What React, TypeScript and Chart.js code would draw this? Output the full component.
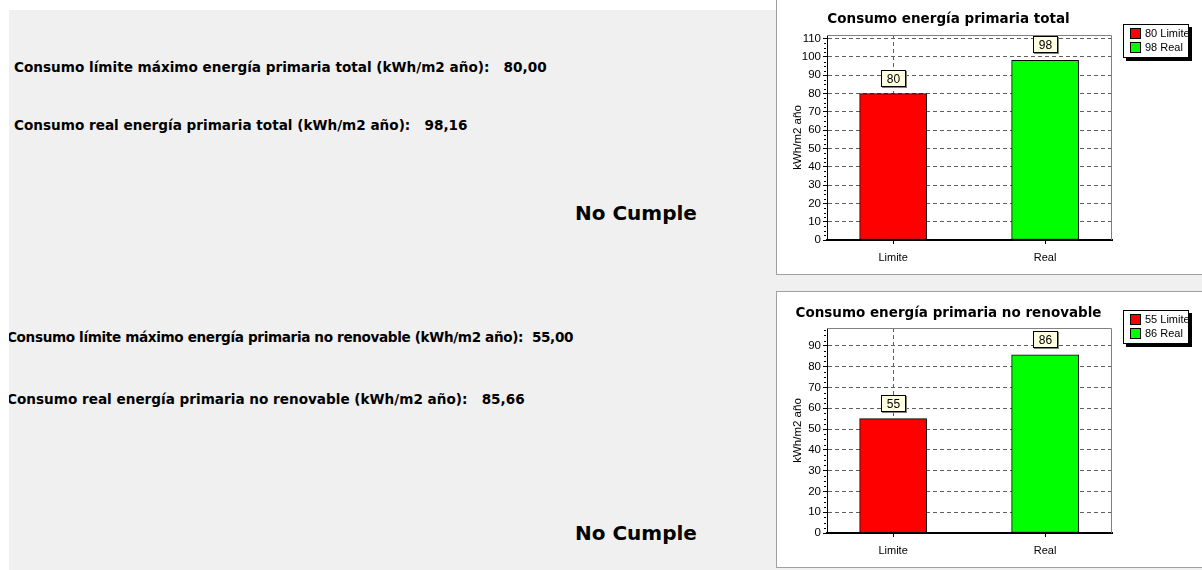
import React, { useEffect, useRef } from "react";
import { Chart, registerables } from "chart.js";

Chart.register(...registerables);

// ---------- data ----------
const categories = ["Limite", "Real"];
const totalValues = [80, 98.16];
const nonRenewableValues = [55, 85.66];
const totalYTicks = [0, 10, 20, 30, 40, 50, 60, 70, 80, 90, 100, 110];
const nonRenewableYTicks = [0, 10, 20, 30, 40, 50, 60, 70, 80, 90];
const totalYMax = 112;
const nonRenewableYMax = 98.6;
const barColors = ["#ff0000", "#00ff00"];
const totalTitle = "Consumo energía primaria total";
const nonRenewableTitle = "Consumo energía primaria no renovable";
const yAxisTitle = "kWh/m2 año";

const totalLimitText = "Consumo límite máximo energía primaria total (kWh/m2 año):   80,00";
const totalRealText = "Consumo real energía primaria total (kWh/m2 año):   98,16";
const nonRenLimitText = "Consumo límite máximo energía primaria no renovable (kWh/m2 año):  55,00";
const nonRenRealText = "Consumo real energía primaria no renovable (kWh/m2 año):   85,66";
const verdictText = "No Cumple";

const AXIS_FONT = "'Liberation Sans', Arial, sans-serif";
const BOLD_FONT = "'DejaVu Sans', Verdana, sans-serif";

type PanelProps = {
  values: number[];
  yTicks: number[];
  yMax: number;
  title: string;
  titleY: number;
  legendTop: number;
  topPad: number;
  width: number;
  height: number;
};

function BarPanel({ values, yTicks, yMax, title, titleY, legendTop, topPad, width, height }: PanelProps) {
  const ref = useRef<HTMLCanvasElement>(null);

  useEffect(() => {
    const canvas = ref.current;
    if (!canvas) return;

    const decor = {
      id: "decor",
      beforeDatasetsDraw(chart: any) {
        const { ctx, chartArea: a } = chart;
        ctx.save();
        ctx.strokeStyle = "#808080";
        ctx.lineWidth = 1;
        ctx.beginPath();
        ctx.moveTo(a.left, a.top + 0.5);
        ctx.lineTo(a.right - 0.5, a.top + 0.5);
        ctx.lineTo(a.right - 0.5, a.bottom);
        ctx.stroke();
        // minor ticks on the value axis
        const ys = chart.scales.y;
        ctx.strokeStyle = "#000";
        ctx.beginPath();
        for (let v = 2.5; v < yMax; v += 2.5) {
          if (v % 10 === 0) continue;
          const py = Math.round(ys.getPixelForValue(v)) + 0.5;
          ctx.moveTo(a.left - 3, py);
          ctx.lineTo(a.left - 1, py);
        }
        ctx.stroke();
        ctx.restore();
      },
      afterDatasetsDraw(chart: any) {
        const { ctx } = chart;
        const meta = chart.getDatasetMeta(0);
        ctx.save();
        ctx.font = `12px ${AXIS_FONT}`;
        meta.data.forEach((bar: any, i: number) => {
          const txt = String(Math.round(values[i]));
          const tw = ctx.measureText(txt).width;
          const w = Math.round(tw + 12);
          const h = 17;
          const x = Math.round(bar.x - w / 2);
          const y = Math.round(bar.y - 7 - h);
          ctx.fillStyle = "#808080";
          ctx.fillRect(x + 1, y + 1, w, h);
          ctx.fillStyle = "#ffffe1";
          ctx.fillRect(x, y, w, h);
          ctx.strokeStyle = "#000";
          ctx.lineWidth = 1;
          ctx.strokeRect(x + 0.5, y + 0.5, w - 1, h - 1);
          ctx.fillStyle = "#000";
          ctx.textAlign = "center";
          ctx.textBaseline = "middle";
          ctx.fillText(txt, x + w / 2, y + h / 2 + 1);
        });
        ctx.restore();
      },
      afterDraw(chart: any) {
        const { ctx } = chart;
        ctx.save();
        // title
        ctx.font = `bold 13.5px ${BOLD_FONT}`;
        ctx.fillStyle = "#000";
        ctx.textAlign = "center";
        ctx.textBaseline = "middle";
        ctx.fillText(title, 171.5, titleY);
        // legend
        const lx = 346;
        const ly = legendTop;
        const lw = 66;
        const lh = 34;
        ctx.fillStyle = "#000";
        ctx.fillRect(lx + 3, ly + 3, lw, lh);
        ctx.fillStyle = "#fff";
        ctx.fillRect(lx, ly, lw, lh);
        ctx.strokeStyle = "#000";
        ctx.lineWidth = 1;
        ctx.strokeRect(lx + 0.5, ly + 0.5, lw - 1, lh - 1);
        ctx.font = `11px ${AXIS_FONT}`;
        ctx.textAlign = "left";
        categories.forEach((c, i) => {
          const sy = ly + 4 + i * 14;
          ctx.fillStyle = barColors[i];
          ctx.fillRect(lx + 7, sy, 11, 11);
          ctx.strokeStyle = "#000";
          ctx.strokeRect(lx + 7.5, sy + 0.5, 10, 10);
          ctx.fillStyle = "#000";
          ctx.fillText(`${Math.round(values[i])} ${c}`, lx + 22, sy + 6);
        });
        ctx.restore();
      },
    };

    const chart = new Chart(canvas, {
      type: "bar",
      data: {
        labels: categories,
        datasets: [
          {
            data: values.map((v, i) => ({ x: i, y: v })) as any,
            backgroundColor: barColors,
            borderColor: "#000",
            borderWidth: 1,
            borderSkipped: false,
            barThickness: 67,
          },
        ],
      },
      options: {
        responsive: false,
        animation: false,
        layout: { padding: { left: 0, right: 90, top: topPad, bottom: 0 } },
        plugins: {
          legend: { display: false },
          title: { display: false },
          tooltip: { enabled: false },
        },
        scales: {
          x: {
            type: "linear",
            min: -0.435,
            max: 1.44,
            offset: false,
            afterBuildTicks: (s: any) => {
              s.ticks = categories.map((_, i) => ({ value: i }));
            },
            afterFit: (s: any) => {
              s.height = 34;
            },
            ticks: {
              callback: (v: any) => categories[v] ?? "",
              font: { family: AXIS_FONT, size: 11 },
              color: "#000",
              padding: 7,
              maxRotation: 0,
              autoSkip: false,
            },
            grid: {
              offset: false,
              color: (ctx: any) => (ctx.index === 0 ? "#606060" : "rgba(0,0,0,0)"),
              tickColor: "#000",
              tickLength: 4,
              tickBorderDash: [],
            },
            border: { display: true, color: "#000", width: 2, dash: [4, 3] },
          },
          y: {
            type: "linear",
            min: 0,
            max: yMax,
            afterBuildTicks: (s: any) => {
              s.ticks = yTicks.map((v) => ({ value: v }));
            },
            afterFit: (s: any) => {
              s.width = 50;
            },
            ticks: {
              font: { family: AXIS_FONT, size: 11.5 },
              color: "#000",
              padding: 2,
            },
            grid: {
              color: "#606060",
              tickColor: "#000",
              tickLength: 4,
              tickBorderDash: [],
            },
            border: { display: true, color: "#000", width: 1, dash: [4, 3] },
            title: {
              display: true,
              text: yAxisTitle,
              font: { family: AXIS_FONT, size: 11.5 },
              color: "#000",
              padding: { top: 14, bottom: 0 },
            },
          },
        },
      },
      plugins: [decor],
    });

    return () => chart.destroy();
  }, [values, yTicks, yMax, title, titleY, legendTop, topPad]);

  return <canvas ref={ref} width={width} height={height} style={{ display: "block", width, height }} />;
}

const lineStyle: React.CSSProperties = {
  position: "absolute",
  whiteSpace: "pre",
  fontFamily: BOLD_FONT,
  fontWeight: "bold",
  fontSize: 13.6,
  lineHeight: "16px",
  color: "#000",
};

const verdictStyle: React.CSSProperties = {
  position: "absolute",
  whiteSpace: "pre",
  fontFamily: BOLD_FONT,
  fontWeight: "bold",
  fontSize: 20,
  lineHeight: "24px",
  color: "#000",
};

export default function App() {
  return (
    <div
      style={{
        position: "fixed",
        left: 0,
        top: 0,
        width: 1202,
        height: 570,
        background: "#fff",
        overflow: "hidden",
      }}
    >
      <div
        style={{
          position: "absolute",
          left: 9,
          top: 10,
          width: 1193,
          height: 560,
          background: "#f0f0f0",
          overflow: "hidden",
        }}
      >
        <div style={{ ...lineStyle, left: 5, top: 49 }}>{totalLimitText}</div>
        <div style={{ ...lineStyle, left: 5, top: 107 }}>{totalRealText}</div>
        <div style={{ ...verdictStyle, left: 566, top: 191 }}>{verdictText}</div>
        <div style={{ ...lineStyle, left: -2, top: 319, letterSpacing: -0.36 }}>{nonRenLimitText}</div>
        <div style={{ ...lineStyle, left: -2, top: 381 }}>{nonRenRealText}</div>
        <div style={{ ...verdictStyle, left: 566, top: 511 }}>{verdictText}</div>
      </div>

      <div
        style={{
          position: "absolute",
          left: 776,
          top: 0,
          width: 426,
          height: 275,
          boxSizing: "border-box",
          borderLeft: "1px solid #a0a0a0",
          borderBottom: "1px solid #a0a0a0",
          background: "#fff",
        }}
      >
        <BarPanel
          values={totalValues}
          yTicks={totalYTicks}
          yMax={totalYMax}
          title={totalTitle}
          titleY={19}
          legendTop={24}
          topPad={35}
          width={425}
          height={274}
        />
      </div>

      <div
        style={{
          position: "absolute",
          left: 776,
          top: 291,
          width: 426,
          height: 277,
          boxSizing: "border-box",
          borderLeft: "1px solid #a0a0a0",
          borderTop: "1px solid #a0a0a0",
          borderBottom: "1px solid #a0a0a0",
          background: "#fff",
        }}
      >
        <BarPanel
          values={nonRenewableValues}
          yTicks={nonRenewableYTicks}
          yMax={nonRenewableYMax}
          title={nonRenewableTitle}
          titleY={21}
          legendTop={18}
          topPad={36}
          width={425}
          height={275}
        />
      </div>
    </div>
  );
}
